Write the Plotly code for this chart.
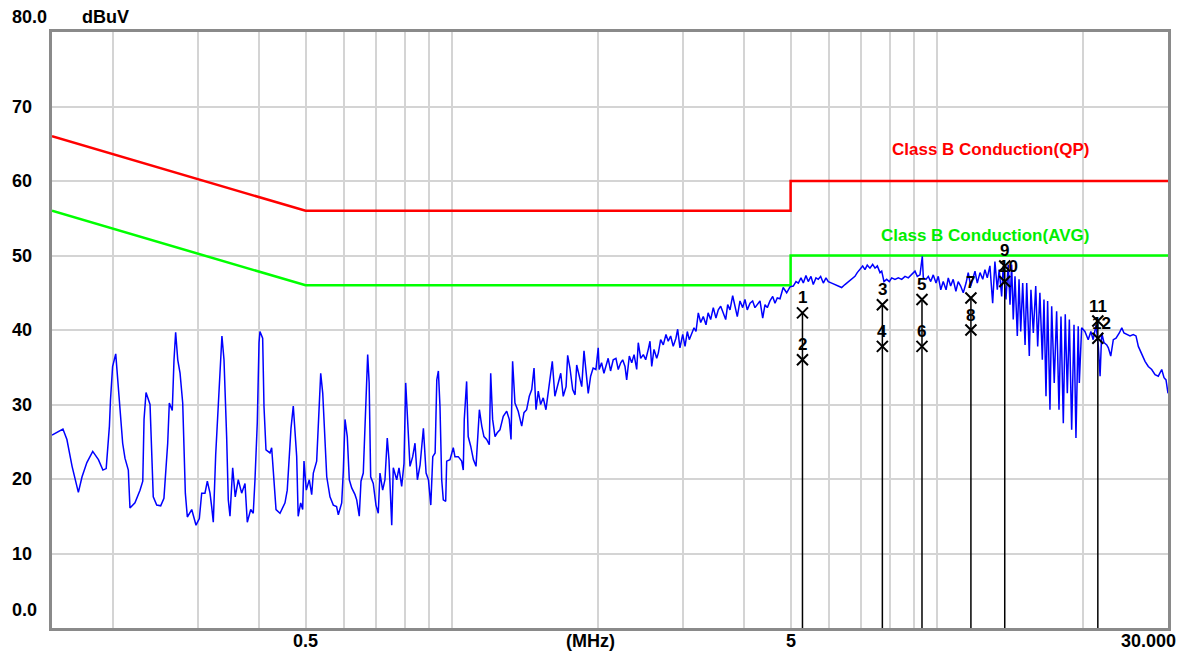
import math
import plotly.graph_objects as go

# ---------------- data ----------------
freq_mhz = [
    0.150, 0.158, 0.161, 0.165, 0.170, 0.173, 0.177, 0.182, 0.187, 0.191,
    0.194, 0.197, 0.198, 0.200, 0.203, 0.2045, 0.2071, 0.2098, 0.2121, 0.2155,
    0.2172, 0.2224, 0.2278, 0.2308, 0.2322, 0.2344, 0.2389, 0.2408, 0.2426, 0.2466,
    0.2513, 0.2552, 0.2577, 0.2598, 0.2618, 0.2655, 0.2677, 0.2698, 0.2725, 0.2755,
    0.279, 0.2807, 0.2825, 0.2852, 0.2912, 0.2972, 0.3019, 0.3053, 0.3101, 0.3136,
    0.3176, 0.3201, 0.3226, 0.3263, 0.3294, 0.333, 0.3361, 0.3394, 0.3415, 0.3437,
    0.3464, 0.3492, 0.3537, 0.358, 0.3632, 0.3691, 0.375, 0.3791, 0.3853, 0.39,
    0.3932, 0.3975, 0.4008, 0.4026, 0.4078, 0.4104, 0.4143, 0.4222, 0.4256, 0.4289,
    0.4345, 0.4428, 0.4534, 0.4583, 0.4628, 0.4665, 0.4716, 0.4761, 0.4793, 0.4827,
    0.4885, 0.4931,
    0.4962, 0.5017, 0.5088, 0.5147, 0.5187, 0.527, 0.5311, 0.5372, 0.5424, 0.5457,
    0.5528, 0.5614, 0.5703, 0.5792, 0.584, 0.5935, 0.598, 0.6029, 0.6094, 0.6153,
    0.6224, 0.6322, 0.6373, 0.6451, 0.6504, 0.6575, 0.6649, 0.6714, 0.6761, 0.681,
    0.6894, 0.6983, 0.706, 0.7117, 0.7209, 0.7288, 0.7368, 0.7428, 0.7526, 0.7582,
    0.7706, 0.779, 0.789, 0.7978, 0.8042, 0.8102, 0.8207, 0.8314, 0.8405, 0.8501,
    0.8611, 0.8747, 0.8859, 0.8958, 0.906, 0.9145, 0.9248, 0.9321, 0.9392, 0.9464,
    0.9541, 0.9614, 0.9724, 0.977, 0.9924, 1.008, 1.016, 1.032, 1.049, 1.057,
    1.062, 1.074, 1.082, 1.095, 1.109, 1.123, 1.130, 1.141, 1.154, 1.166,
    1.181, 1.196, 1.204, 1.215, 1.229, 1.242, 1.258, 1.278, 1.299, 1.315,
    1.326, 1.336, 1.351, 1.372, 1.395, 1.410, 1.428, 1.446, 1.463, 1.479,
    1.493, 1.509, 1.526, 1.545, 1.565, 1.583, 1.601, 1.613, 1.633, 1.660,
    1.679, 1.699, 1.722, 1.735, 1.754, 1.777, 1.797, 1.811, 1.833, 1.855,
    1.875, 1.893, 1.913, 1.935, 1.958, 1.984, 2.006,
    2.015, 2.038, 2.061, 2.080, 2.103, 2.127, 2.154, 2.182, 2.206, 2.232,
    2.253, 2.278, 2.296, 2.325, 2.352, 2.378, 2.408, 2.426, 2.454, 2.485,
    2.513, 2.544, 2.565, 2.586, 2.614, 2.648, 2.668, 2.698, 2.732, 2.767,
    2.797, 2.829, 2.864, 2.901, 2.925, 2.957, 2.996, 3.029, 3.062, 3.091,
    3.127, 3.161, 3.191, 3.226, 3.263, 3.303, 3.346, 3.380, 3.421, 3.464,
    3.508, 3.547, 3.588, 3.632, 3.674, 3.709, 3.750, 3.798, 3.840, 3.882,
    3.932, 3.983, 4.026, 4.070, 4.124, 4.176, 4.222, 4.269, 4.324, 4.380,
    4.428, 4.477, 4.534, 4.593, 4.643, 4.694, 4.755, 4.827, 4.908, 4.986,
    5.064, 5.130, 5.187, 5.253, 5.311,
    5.378, 5.437, 5.508, 5.568, 5.640, 5.702, 5.767, 5.840, 5.915, 5.980,
    6.077, 6.173, 6.271, 6.371, 6.472, 6.575, 6.681, 6.787, 6.861, 6.950,
    7.040, 7.117, 7.195, 7.288, 7.382, 7.465, 7.547, 7.644, 7.706, 7.790,
    7.890, 7.989, 8.080, 8.207, 8.338, 8.474, 8.608, 8.743, 8.886, 9.025,
    9.124, 9.242, 9.344, 9.389, 9.510, 9.614, 9.724, 9.843, 9.972, 10.08,
    10.20, 10.32, 10.46, 10.57, 10.69, 10.82, 10.96, 11.08, 11.21, 11.35,
    11.50, 11.62, 11.76, 11.90, 12.00, 12.13, 12.29, 12.45, 12.58, 12.72,
    12.88, 13.05, 13.19, 13.34, 13.46, 13.62, 13.72, 13.90, 14.05, 14.17,
    14.28, 14.39, 14.51, 14.67, 14.79, 14.91, 15.05, 15.22, 15.34, 15.53,
    15.65, 15.83, 16.01, 16.16, 16.33, 16.52, 16.65, 16.81, 16.94, 17.13,
    17.27, 17.48, 17.68, 17.88, 18.05, 18.25, 18.42, 18.60, 18.78, 18.99,
    19.20, 19.38, 19.59, 19.69, 19.91, 20.22, 20.54, 20.80, 21.03, 21.32,
    21.55, 21.73, 21.90, 22.14, 22.43, 22.60, 22.86, 23.14, 23.44, 23.81,
    24.09, 24.34, 24.66, 25.05, 25.44, 25.77, 26.06, 26.48, 26.90, 27.32,
    27.77, 28.21, 28.65, 29.12, 29.44, 29.72, 30.0,
]

level_dbuv = [
    25.9, 26.7, 25.3, 21.7, 18.2, 20.3, 22.2, 23.7, 22.6, 21.2,
    21.4, 27.1, 30.6, 35.1, 36.8, 34.2, 30.2, 24.8, 22.8, 21.2,
    16.1, 16.8, 18.5, 19.7, 28.0, 31.6, 30.0, 24.8, 17.6, 16.5,
    16.4, 17.4, 20.8, 24.8, 30.2, 29.2, 36.0, 39.7, 36.0, 34.2,
    30.2, 23.3, 18.1, 14.9, 15.9, 13.8, 14.7, 18.1, 18.1, 19.7,
    18.1, 16.3, 14.2, 23.3, 28.0, 34.7, 39.2, 36.0, 31.5, 25.7,
    17.2, 15.0, 21.5, 17.6, 19.9, 18.1, 19.4, 14.2, 15.9, 15.4,
    19.9, 27.5, 38.3, 39.8, 38.9, 29.7, 23.9, 23.5, 24.2, 21.5,
    15.9, 15.4, 16.8, 18.5, 23.9, 26.8, 29.8, 26.4, 23.0, 15.0,
    16.8, 15.9,
    22.4, 18.5, 19.9, 17.9, 20.8, 22.4, 28.0, 34.2, 31.5, 28.4,
    20.3, 17.6, 16.5, 16.3, 15.2, 16.8, 21.0, 28.0, 25.7, 19.9,
    18.8, 17.9, 17.2, 15.0, 19.7, 20.8, 29.7, 36.7, 32.9, 20.3,
    19.4, 16.5, 15.4, 20.8, 18.5, 19.9, 25.5, 22.6, 13.8, 21.5,
    19.9, 21.5, 19.0, 22.1, 32.9, 28.4, 21.7, 23.0, 24.8, 19.9,
    21.9, 26.8, 20.8, 19.9, 16.5, 23.0, 23.5, 33.3, 34.5, 29.7,
    19.9, 17.2, 17.0, 22.4, 22.6, 24.2, 23.0, 23.0, 22.4, 21.2,
    28.0, 33.1, 25.7, 24.4, 22.6, 21.7, 24.8, 29.3, 27.1, 25.7,
    25.3, 24.6, 34.2, 28.0, 25.7, 26.2, 26.6, 28.4, 29.1, 28.0,
    25.3, 35.8, 30.2, 29.1, 27.1, 28.9, 29.3, 31.1, 32.0, 34.9,
    29.3, 31.8, 30.0, 30.9, 29.3, 32.0, 34.0, 35.8, 31.1, 32.9,
    34.2, 31.1, 32.4, 36.6, 34.9, 32.0, 31.3, 35.3, 33.8, 32.4,
    37.2, 34.9, 31.5, 33.8, 34.9, 34.7, 37.6,
    34.7, 35.6, 34.2, 35.1, 36.2, 34.5, 36.0, 36.2, 34.7, 35.6,
    36.0, 35.1, 33.3, 36.5, 35.6, 36.7, 34.7, 38.3, 36.2, 36.7,
    36.0, 37.4, 38.5, 35.1, 37.4, 36.2, 36.9, 38.7, 38.0, 39.4,
    38.5, 39.2, 37.8, 38.9, 40.1, 37.6, 39.4, 37.8, 39.8, 38.7,
    39.6, 40.3, 39.8, 42.3, 41.0, 41.8, 40.7, 42.3, 41.4, 43.0,
    41.6, 42.7, 43.2, 42.1, 41.4, 43.4, 42.7, 44.6, 43.2, 41.8,
    43.9, 43.0, 44.1, 42.7, 43.6, 43.9, 43.0, 43.4, 43.9, 41.6,
    43.4, 43.0, 43.9, 44.5, 43.6, 44.3, 44.2, 45.7, 45.0, 45.8,
    45.9, 46.5, 46.3, 47.0, 46.3,
    47.3, 46.5, 47.2, 46.1, 47.0, 46.8, 47.2, 46.3, 47.0, 46.5,
    46.3, 46.1, 45.9, 45.7, 46.1, 46.5, 46.8, 47.2, 47.7, 48.1,
    48.6, 48.1, 48.7, 48.3, 48.8, 48.3, 48.6, 47.7, 47.9, 46.5,
    46.8, 46.5, 47.0, 46.8, 47.0, 46.8, 47.2, 47.0, 47.4, 47.9,
    47.2, 47.4, 49.9, 47.0, 46.8, 47.2, 46.5, 47.4, 46.3, 47.2,
    45.4, 46.5, 45.4, 47.0, 45.9, 46.8, 45.2, 46.5, 45.9, 45.0,
    46.3, 47.7, 45.9, 47.2, 47.9, 46.3, 47.7, 46.8, 48.1, 47.0,
    48.6, 43.6, 49.2, 45.4, 48.1, 44.5, 48.6, 44.1, 48.8, 43.4,
    48.8, 41.4, 47.2, 39.2, 46.8, 39.8, 46.3, 38.0, 46.3, 36.5,
    45.4, 39.6, 45.9, 37.8, 45.0, 36.0, 44.1, 31.1, 43.9, 29.3,
    43.2, 32.9, 42.5, 29.3, 41.8, 27.5, 42.1, 31.5, 41.4, 26.6,
    40.7, 25.5, 40.5, 32.9, 40.3, 39.8, 38.7, 39.8, 38.7, 40.7,
    37.8, 33.8, 39.6, 38.3, 38.0, 37.6, 36.5, 38.7, 38.9, 39.6,
    40.3, 39.6, 39.4, 39.2, 39.4, 39.2, 37.8, 36.7, 35.8, 35.1,
    34.7, 34.0, 33.8, 34.7, 33.6, 33.3, 31.5,
]

qp_freq = [0.15, 0.5, 5, 5, 30]
qp_level = [66, 56, 56, 60, 60]
avg_freq = [0.15, 0.5, 5, 5, 30]
avg_level = [56, 46, 46, 50, 50]

marker_no = ["1", "2", "3", "4", "5", "6", "7", "8", "9", "10", "11", "12"]
marker_freq = [5.29, 5.29, 7.73, 7.73, 9.33, 9.33, 11.77, 11.77, 13.82, 13.82, 21.5, 21.5]
marker_level = [42.3, 36.0, 43.4, 37.8, 44.1, 37.8, 44.3, 40.0, 48.6, 46.5, 41.2, 38.9]

x_grid = [0.2, 0.3, 0.4, 0.5, 0.6, 0.7, 0.8, 0.9, 1, 2, 3, 4, 5, 6, 7, 8, 9, 10, 20]
y_grid = [10, 20, 30, 40, 50, 60, 70]
y_labels = ["10", "20", "30", "40", "50", "60", "70"]
x_labels = [("0.5", 0.5), ("(MHz)", 1.93), ("5", 5.0)]

FONT = "Liberation Sans, Arial, sans-serif"

fig = go.Figure()

fig.add_trace(go.Scatter(x=qp_freq, y=qp_level, mode="lines",
                         line=dict(color="#ff0000", width=2.5), hoverinfo="skip"))
fig.add_trace(go.Scatter(x=avg_freq, y=avg_level, mode="lines",
                         line=dict(color="#00ff00", width=2.5), hoverinfo="skip"))
fig.add_trace(go.Scatter(x=freq_mhz, y=level_dbuv, mode="lines",
                         line=dict(color="#0000ff", width=1.5)))

# vertical marker lines (from the highest marker at each frequency down to 0)
lx, ly = [], []
tops = {}
for f, lv in zip(marker_freq, marker_level):
    tops[f] = max(tops.get(f, lv), lv)
for f, lv in tops.items():
    lx += [f, f, None]
    ly += [lv, 0, None]
fig.add_trace(go.Scatter(x=lx, y=ly, mode="lines",
                         line=dict(color="black", width=1.5), hoverinfo="skip"))
fig.add_trace(go.Scatter(x=marker_freq, y=marker_level, mode="markers",
                         marker=dict(symbol="x-thin", size=11, color="black",
                                     line=dict(color="black", width=2))))

ann = []
for n, f, lv in zip(marker_no, marker_freq, marker_level):
    ann.append(dict(x=math.log10(f), y=lv, xref="x", yref="y", text=n,
                    showarrow=False, yshift=15,
                    xshift=4 if n in ("10", "12") else 0,
                    font=dict(family=FONT, size=17, color="black", weight="bold")))

ann.append(dict(x=math.log10(12.9), y=60, yshift=32, xref="x", yref="y",
                text="Class B Conduction(QP)", showarrow=False,
                font=dict(family=FONT, size=17, color="#ff0000", weight="bold")))
ann.append(dict(x=math.log10(12.6), y=50, yshift=20, xref="x", yref="y",
                text="Class B Conduction(AVG)", showarrow=False,
                font=dict(family=FONT, size=17, color="#00ee00", weight="bold")))

lab_font = dict(family=FONT, size=18, color="black", weight="bold")
for t, v in zip(y_labels, y_grid):
    ann.append(dict(x=-0.0376, xref="paper", xanchor="left", y=v, yref="y",
                    text=t, showarrow=False, font=lab_font))
ann.append(dict(x=-0.0376, xref="paper", xanchor="left", y=2.4, yref="y",
                text="0.0", showarrow=False, font=lab_font))
ann.append(dict(x=-0.0376, xref="paper", xanchor="left", y=1.0252, yref="paper",
                yanchor="middle", text="80.0", showarrow=False, font=lab_font))
ann.append(dict(x=0.0475, xref="paper", xanchor="center", y=1.0252, yref="paper",
                yanchor="middle", text="dBuV", showarrow=False, font=lab_font))
for t, f in x_labels:
    ann.append(dict(x=math.log10(f), xref="x", y=-0.021, yref="paper",
                    yanchor="middle", text=t, showarrow=False, font=lab_font))
ann.append(dict(x=1.0090, xref="paper", xanchor="right", y=-0.021, yref="paper",
                yanchor="middle", text="30.000", showarrow=False, font=lab_font))

# the page body has an 8px margin, so the figure is shrunk by 8px to keep
# the plot area at the reference position
fig.update_layout(
    width=1176, height=645,
    margin=dict(l=44, r=16, t=24, b=25),
    paper_bgcolor="white", plot_bgcolor="white",
    showlegend=False,
    annotations=ann,
    xaxis=dict(type="log", range=[math.log10(0.15), math.log10(30)],
               tickvals=x_grid, showticklabels=False, ticks="",
               showgrid=True, gridcolor="#d4d4d4", gridwidth=2,
               showline=True, linecolor="#8a8a8a", linewidth=3, mirror=True,
               zeroline=False),
    yaxis=dict(range=[0, 80], tickvals=y_grid, showticklabels=False, ticks="",
               showgrid=True, gridcolor="#d4d4d4", gridwidth=2,
               showline=True, linecolor="#8a8a8a", linewidth=3, mirror=True,
               zeroline=False),
)

fig.write_html("out.html")
